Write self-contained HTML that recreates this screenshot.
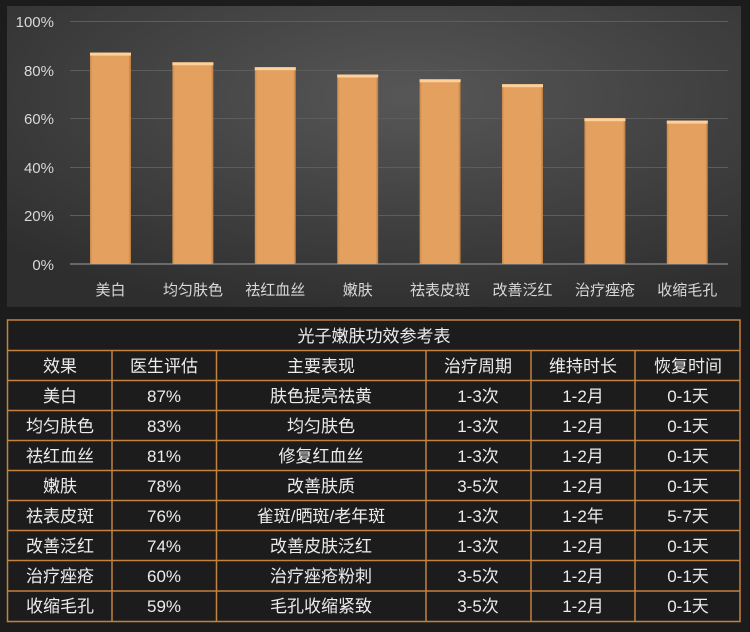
<!DOCTYPE html>
<html><head><meta charset="utf-8"><style>
html,body{margin:0;padding:0;background:#1c1c1c;width:750px;height:632px;overflow:hidden}
svg{display:block}
text{font-family:"Liberation Sans","Noto Sans CJK SC",sans-serif}
</style></head><body>
<svg width="750" height="632" viewBox="0 0 750 632" xmlns="http://www.w3.org/2000/svg">
<defs>
<radialGradient id="bg" cx="0.55" cy="0.3" r="0.75">
<stop offset="0" stop-color="#575757"/><stop offset="1" stop-color="#2e2e2e"/>
</radialGradient>
<linearGradient id="bar" x1="0" x2="1" y1="0" y2="0">
<stop offset="0" stop-color="#c98a4c"/><stop offset="0.06" stop-color="#e3a05e"/><stop offset="0.94" stop-color="#e3a05e"/><stop offset="1" stop-color="#b87a40"/>
</linearGradient>
</defs>
<rect x="0" y="0" width="750" height="632" fill="#1c1c1c"/>
<rect x="7" y="6" width="734" height="301" fill="url(#bg)"/>
<g stroke="#5d5d5d" stroke-width="1">
<line x1="70" x2="728" y1="21.5" y2="21.5"/>
<line x1="70" x2="728" y1="70.5" y2="70.5"/>
<line x1="70" x2="728" y1="118.5" y2="118.5"/>
<line x1="70" x2="728" y1="167.5" y2="167.5"/>
<line x1="70" x2="728" y1="215.5" y2="215.5"/>
</g>
<line x1="70" x2="728" y1="264" y2="264" stroke="#8a8a8a" stroke-width="1.2"/>
<g fill="#d8d8d8" font-size="15" text-anchor="end">
<text x="54" y="27">100%</text><text x="54" y="76">80%</text><text x="54" y="124">60%</text>
<text x="54" y="173">40%</text><text x="54" y="221">20%</text><text x="54" y="270">0%</text>
</g>
<g>
<rect x="90" y="52.6" width="41" height="211.4" fill="url(#bar)"/><rect x="90" y="52.6" width="41" height="3" fill="#ffd09a"/>
<rect x="172.4" y="62.3" width="41" height="201.7" fill="url(#bar)"/><rect x="172.4" y="62.3" width="41" height="3" fill="#ffd09a"/>
<rect x="254.8" y="67.2" width="41" height="196.8" fill="url(#bar)"/><rect x="254.8" y="67.2" width="41" height="3" fill="#ffd09a"/>
<rect x="337.2" y="74.5" width="41" height="189.5" fill="url(#bar)"/><rect x="337.2" y="74.5" width="41" height="3" fill="#ffd09a"/>
<rect x="419.6" y="79.3" width="41" height="184.7" fill="url(#bar)"/><rect x="419.6" y="79.3" width="41" height="3" fill="#ffd09a"/>
<rect x="502" y="84.2" width="41" height="179.8" fill="url(#bar)"/><rect x="502" y="84.2" width="41" height="3" fill="#ffd09a"/>
<rect x="584.4" y="118.2" width="41" height="145.8" fill="url(#bar)"/><rect x="584.4" y="118.2" width="41" height="3" fill="#ffd09a"/>
<rect x="666.8" y="120.6" width="41" height="143.4" fill="url(#bar)"/><rect x="666.8" y="120.6" width="41" height="3" fill="#ffd09a"/>
</g>
<g fill="#d8d8d8" font-size="15" text-anchor="middle">
<text x="110.5" y="295">美白</text><text x="193" y="295">均匀肤色</text><text x="275.3" y="295">祛红血丝</text>
<text x="357.7" y="295">嫩肤</text><text x="440" y="295">祛表皮斑</text><text x="522.5" y="295">改善泛红</text>
<text x="605" y="295">治疗痤疮</text><text x="687.3" y="295">收缩毛孔</text>
</g>
<g stroke="#c4813f" stroke-width="1.5" fill="none">
<rect x="7.5" y="320" width="732.5" height="301.5"/>
<line x1="7.5" x2="740" y1="350.5" y2="350.5"/>
<line x1="7.5" x2="740" y1="380.5" y2="380.5"/>
<line x1="7.5" x2="740" y1="410.5" y2="410.5"/>
<line x1="7.5" x2="740" y1="440.5" y2="440.5"/>
<line x1="7.5" x2="740" y1="470.5" y2="470.5"/>
<line x1="7.5" x2="740" y1="500.5" y2="500.5"/>
<line x1="7.5" x2="740" y1="530.5" y2="530.5"/>
<line x1="7.5" x2="740" y1="560.5" y2="560.5"/>
<line x1="7.5" x2="740" y1="591" y2="591"/>
<line x1="112" x2="112" y1="350.5" y2="621.5"/>
<line x1="216.5" x2="216.5" y1="350.5" y2="621.5"/>
<line x1="426" x2="426" y1="350.5" y2="621.5"/>
<line x1="531" x2="531" y1="350.5" y2="621.5"/>
<line x1="635" x2="635" y1="350.5" y2="621.5"/>
</g>
<g fill="#ececec" font-size="17" text-anchor="middle">
<text x="374" y="342">光子嫩肤功效参考表</text>
<g>
<text x="60" y="372">效果</text><text x="164" y="372">医生评估</text><text x="321" y="372">主要表现</text><text x="478" y="372">治疗周期</text><text x="583" y="372">维持时长</text><text x="688" y="372">恢复时间</text>
</g>
<g>
<text x="60" y="402">美白</text><text x="164" y="402">87%</text><text x="321" y="402">肤色提亮祛黄</text><text x="478" y="402">1-3次</text><text x="583" y="402">1-2月</text><text x="688" y="402">0-1天</text>
<text x="60" y="432">均匀肤色</text><text x="164" y="432">83%</text><text x="321" y="432">均匀肤色</text><text x="478" y="432">1-3次</text><text x="583" y="432">1-2月</text><text x="688" y="432">0-1天</text>
<text x="60" y="462">祛红血丝</text><text x="164" y="462">81%</text><text x="321" y="462">修复红血丝</text><text x="478" y="462">1-3次</text><text x="583" y="462">1-2月</text><text x="688" y="462">0-1天</text>
<text x="60" y="492">嫩肤</text><text x="164" y="492">78%</text><text x="321" y="492">改善肤质</text><text x="478" y="492">3-5次</text><text x="583" y="492">1-2月</text><text x="688" y="492">0-1天</text>
<text x="60" y="522">祛表皮斑</text><text x="164" y="522">76%</text><text x="321" y="522">雀斑/晒斑/老年斑</text><text x="478" y="522">1-3次</text><text x="583" y="522">1-2年</text><text x="688" y="522">5-7天</text>
<text x="60" y="552">改善泛红</text><text x="164" y="552">74%</text><text x="321" y="552">改善皮肤泛红</text><text x="478" y="552">1-3次</text><text x="583" y="552">1-2月</text><text x="688" y="552">0-1天</text>
<text x="60" y="582">治疗痤疮</text><text x="164" y="582">60%</text><text x="321" y="582">治疗痤疮粉刺</text><text x="478" y="582">3-5次</text><text x="583" y="582">1-2月</text><text x="688" y="582">0-1天</text>
<text x="60" y="612">收缩毛孔</text><text x="164" y="612">59%</text><text x="321" y="612">毛孔收缩紧致</text><text x="478" y="612">3-5次</text><text x="583" y="612">1-2月</text><text x="688" y="612">0-1天</text>
</g>
</g>
</svg>
</body></html>
